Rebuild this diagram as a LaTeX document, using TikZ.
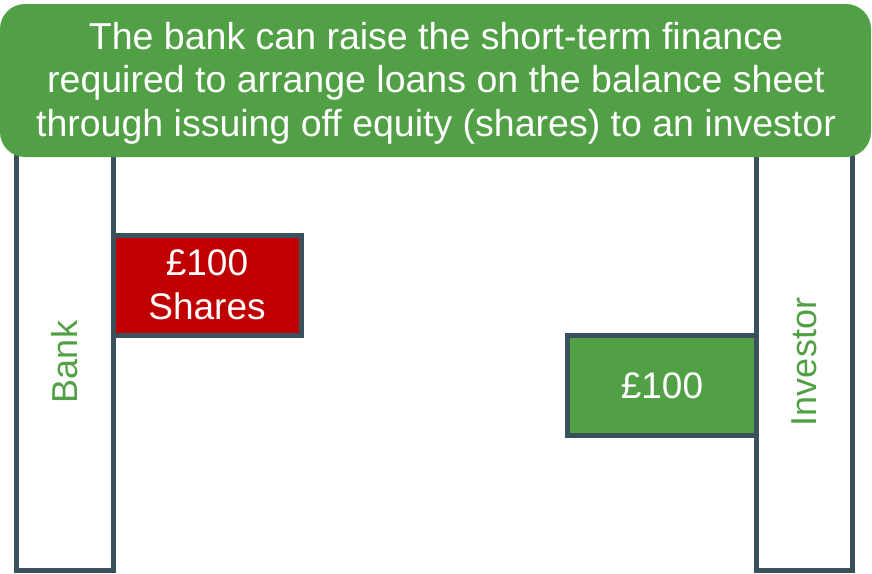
\documentclass[tikz,border=0pt]{standalone}
\usepackage{fontspec}
\setmainfont{Liberation Sans}
\usepackage{tikz}
\usetikzlibrary{positioning}

\definecolor{bargreen}{RGB}{82,160,70}
\definecolor{barred}{RGB}{192,0,0}
\definecolor{slate}{RGB}{58,80,90}

\tikzset{
  bar/.style={draw=slate,line width=5pt,fill=white},
  cash/.style={draw=slate,line width=5pt,text=white,align=center,font=\fontsize{37}{44}\selectfont},
  side/.style={rotate=90,text=bargreen,font=\fontsize{36}{40}\selectfont}
}

\begin{document}
\begin{tikzpicture}[x=1pt,y=-1pt]
    \useasboundingbox (0,0) rectangle (872,573);

    % draw the two balance sheet bars
    \draw[bar] (16.5,150) rectangle (113.5,570.5);
    \draw[bar] (756.5,150) rectangle (852.5,570.5);
    \node[side] (bank) at (65,362) {Bank};
    \node[side] (investor) at (804.5,362) {Investor};

    % draw the shares and the cash
    \draw[cash,fill=barred] (113.5,235.5) rectangle (301,335.5);
    \node[cash,draw=none] (shares) at (207,285) {£100\\Shares};
    \draw[cash,fill=bargreen] (567.5,335.5) rectangle (756.5,435.5);
    \node[cash,draw=none] (cash) at (662,386) {£100};

    % draw the banner on top
    \fill[bargreen,rounded corners=25pt] (0,4) rectangle (871,157);
    \node[text=white,align=center,font=\fontsize{37.5}{43.5}\selectfont] (banner) at (436,83)
      {The bank can raise the short-term finance\\required to arrange loans on the balance sheet\\through issuing off equity (shares) to an investor};
  \end{tikzpicture}
\end{document}
